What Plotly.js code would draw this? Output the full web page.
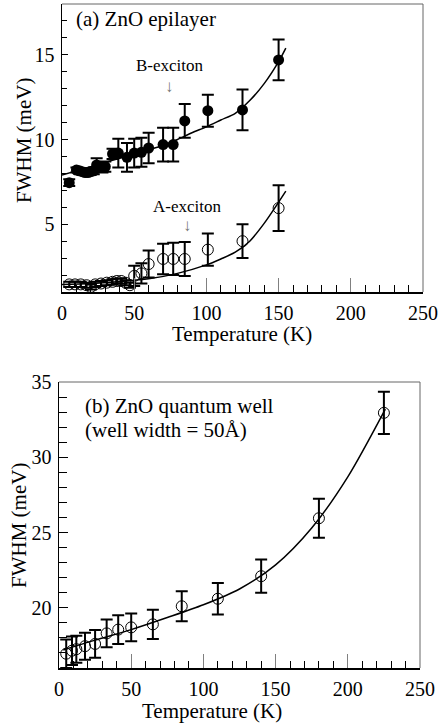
<!DOCTYPE html>
<html>
<head>
<meta charset="utf-8">
<script src="https://cdn.plot.ly/plotly-3.0.1.min.js"></script>
<style>html,body{margin:0;padding:0;background:#fff;}#chart{width:440px;height:728px;}</style>
</head>
<body>
<div id="chart"></div>
<script>
// ---- Panel (a): ZnO epilayer ----
const bTemp = [5,10,12,14,16,18,20,22,24,28,30,35,39,45,50,55,60,70,77,85,101,125,150];
const bFwhm = [7.45,8.2,8.15,8.1,8.05,8.05,8.1,8.15,8.5,8.35,8.4,9.15,9.2,8.95,9.2,9.25,9.5,9.7,9.7,11.1,11.7,11.75,14.7];
const bErr  = [0.2,0.15,0.15,0.15,0.15,0.15,0.15,0.2,0.4,0.3,0.3,0.3,0.85,0.85,0.85,0.85,0.9,1.0,1.0,1.0,0.95,1.2,1.2];
const bFitTemp = [0,10,20,30,40,50,60,70,80,90,100,110,120,130,140,150,155];
const bFitFwhm = [7.9,8.15,8.4,8.65,8.9,9.15,9.4,9.65,10.0,10.4,10.75,11.15,11.55,12.3,13.3,14.6,15.4];

const aTemp = [5,9,13,17,20,23,27,31,35,38,41,44,47,50,55,60,70,77,85,101,125,150];
const aFwhm = [1.45,1.45,1.45,1.4,1.3,1.45,1.5,1.55,1.6,1.65,1.65,1.55,1.4,1.95,2.1,2.65,2.95,2.95,2.95,3.5,4.0,5.95];
const aErr  = [0.15,0.15,0.15,0.15,0.15,0.15,0.15,0.15,0.15,0.15,0.15,0.15,0.15,0.6,0.6,0.8,0.9,0.95,1.0,0.95,1.0,1.35];
const aFitTemp = [0,20,40,60,80,100,110,120,130,140,150,155];
const aFitFwhm = [1.45,1.5,1.62,1.78,2.1,2.6,2.95,3.35,4.0,5.05,6.3,6.95];

// ---- Panel (b): ZnO quantum well ----
const qTemp = [5,9,12,18,25,33,41,50,65,85,110,140,180,225];
const qFwhm = [16.95,17.15,17.25,17.45,17.6,18.3,18.55,18.7,18.9,20.1,20.6,22.1,25.95,32.95];
const qErr  = [0.95,0.95,0.9,0.9,0.92,0.92,0.95,0.92,0.97,1.0,1.05,1.1,1.3,1.4];
const qFitTemp = [3,25,50,75,100,125,150,175,200,226];
const qFitFwhm = [17.2,17.85,18.55,19.35,20.2,21.25,22.85,25.3,28.7,33.2];

const xTicks = [0,50,100,150,200,250];
const xTickText = ['0','50','100','150','200','250'];

const W = 440, H = 728;
const px = v => v / W;
const py = v => 1 - v / H;
const SERIF = 'Liberation Serif';

function errBar(arr){
  return {type:'data', array:arr, visible:true, color:'#000', thickness:2, width:6};
}
const lineStyle = {color:'#000', width:1.5, shape:'spline', smoothing:0.8};

const traces = [
  {x:bFitTemp, y:bFitFwhm, xaxis:'x', yaxis:'y', mode:'lines', line:lineStyle, hoverinfo:'skip'},
  {x:aFitTemp, y:aFitFwhm, xaxis:'x', yaxis:'y', mode:'lines', line:lineStyle, hoverinfo:'skip'},
  {x:bTemp, y:bFwhm, xaxis:'x', yaxis:'y', mode:'markers', name:'B-exciton',
   marker:{symbol:'circle', size:11, color:'#000'}, error_y:errBar(bErr)},
  {x:aTemp, y:aFwhm, xaxis:'x', yaxis:'y', mode:'markers', name:'A-exciton',
   marker:{symbol:'circle-open', size:11, color:'#000', line:{width:1, color:'#000'}}, error_y:errBar(aErr)},
  {x:qFitTemp, y:qFitFwhm, xaxis:'x2', yaxis:'y2', mode:'lines', line:lineStyle, hoverinfo:'skip'},
  {x:qTemp, y:qFwhm, xaxis:'x2', yaxis:'y2', mode:'markers', name:'QW',
   marker:{symbol:'circle-open', size:11, color:'#000', line:{width:1, color:'#000'}}, error_y:errBar(qErr)}
];

function xAxis(domain, anchor){
  return {
    domain:domain, anchor:anchor, range:[0,250], tickmode:'array', tickvals:xTicks, ticktext:xTickText,
    ticks:'inside', ticklen:14, tickwidth:1, tickcolor:'#808080',
    minor:{dtick:10, tick0:0, ticks:'inside', ticklen:7, tickwidth:1, tickcolor:'#000', showgrid:false},
    showline:true, linecolor:'#000', linewidth:1.5, mirror:false,
    showgrid:false, zeroline:false, ticklabelstandoff:2,
    tickfont:{family:SERIF, size:20, color:'#000'}, fixedrange:true
  };
}
function yAxis(domain, anchor, range, len, standoff){
  return {
    domain:domain, anchor:anchor, range:range, tick0:0, dtick:5,
    ticks:'inside', ticklen:len, tickwidth:1, tickcolor:'#000',
    minor:{dtick:1, tick0:0, ticks:'inside', ticklen:len-1, tickwidth:1, tickcolor:'#000', showgrid:false},
    showline:true, linecolor:'#000', linewidth:1.5, mirror:false,
    showgrid:false, zeroline:false, ticklabelstandoff:standoff,
    tickfont:{family:SERIF, size:20, color:'#000'}, fixedrange:true
  };
}

const dTopX = [px(62), px(423)], dTopY = [py(292), py(4)];
const dBotX = [px(59), px(420)], dBotY = [py(668), py(382)];

function frame(xr, yr){
  return [
    {type:'line', xref:xr+' domain', yref:yr+' domain', x0:0, x1:1, y0:1, y1:1, line:{color:'#666', width:1}},
    {type:'line', xref:xr+' domain', yref:yr+' domain', x0:1, x1:1, y0:0, y1:1, line:{color:'#666', width:1}}
  ];
}

function ann(text, x, y, size, opts){
  return Object.assign({text:text, xref:'paper', yref:'paper', x:px(x), y:py(y), showarrow:false,
    xanchor:'center', yanchor:'middle', font:{family:SERIF, size:size, color:'#000'}}, opts||{});
}

const annotations = [
  ann('(a) ZnO epilayer', 74, 19, 21, {xanchor:'left'}),
  ann('B-exciton', 170, 65, 17),
  ann('↓', 169, 86, 17, {font:{family:SERIF, size:17, color:'#777'}}),
  ann('A-exciton', 187, 206, 17),
  ann('↓', 187, 225, 17, {font:{family:SERIF, size:17, color:'#777'}}),
  ann('Temperature (K)', 242, 334, 21),
  ann('FWHM (meV)', 24, 141, 21, {textangle:-90}),
  ann('(b) ZnO quantum well', 83, 406, 21, {xanchor:'left'}),
  ann('(well width = 50Å)', 83, 430, 21, {xanchor:'left'}),
  ann('Temperature (K)', 212, 711, 21),
  ann('FWHM (meV)', 19, 526, 21, {textangle:-90})
];

const layout = {
  width:W, height:H, margin:{l:0, r:0, t:0, b:0},
  paper_bgcolor:'#fff', plot_bgcolor:'#fff', showlegend:false,
  font:{family:SERIF, color:'#000'},
  xaxis:xAxis(dTopX, 'y'),
  yaxis:yAxis(dTopY, 'x', [1,18], 6, 2),
  xaxis2:xAxis(dBotX, 'y2'),
  yaxis2:yAxis(dBotY, 'x2', [16,35], 9, 2),
  shapes:[].concat(frame('x','y'), frame('x2','y2')),
  annotations:annotations
};

Plotly.newPlot('chart', traces, layout, {staticPlot:true, displayModeBar:false});
</script>
</body>
</html>
